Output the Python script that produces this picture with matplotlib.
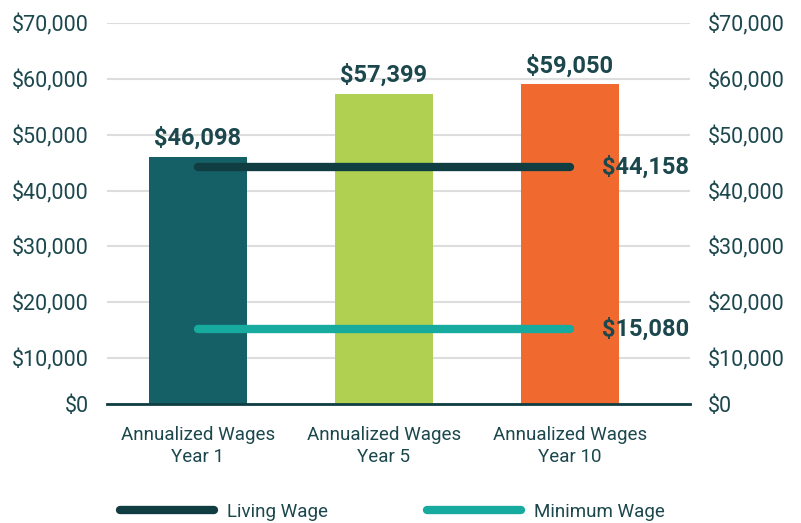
import matplotlib.pyplot as plt
from matplotlib.ticker import FuncFormatter

categories = ["Annualized Wages\nYear 1", "Annualized Wages\nYear 5", "Annualized Wages\nYear 10"]
wages = [46098, 57399, 59050]
living_wage = [44158, 44158, 44158]
minimum_wage = [15080, 15080, 15080]

bar_colors = ["#155f66", "#afd050", "#f06a30"]
text_color = "#1b474d"
living_color = "#0f3d42"
minimum_color = "#17aa9e"

plt.rcParams['font.family'] = ['Roboto', 'DejaVu Sans']

# the baseline in the original sits a little above the zero of the grid scale
y_bottom = 1690
y_top = 70000
grid_ticks = list(range(10000, 70001, 10000))
tick_pos = [y_bottom] + grid_ticks
tick_labels = ["$0"] + ["${:,}".format(t) for t in grid_ticks]

fig = plt.figure(figsize=(8.01, 5.23), dpi=100)
ax = fig.add_axes([0.1336, 0.2275, 0.7278, 0.7279])

x = list(range(len(categories)))
ax.bar(x, wages, width=0.527, color=bar_colors, zorder=2)

ax.plot(x, living_wage, color=living_color, lw=6, solid_capstyle='round',
        zorder=3, label="Living Wage")
ax.plot(x, minimum_wage, color=minimum_color, lw=6, solid_capstyle='round',
        zorder=3, label="Minimum Wage")

# value labels
for xi, v in zip(x, wages):
    ax.text(xi, v + 1200, "${:,}".format(v), ha='center', va='bottom',
            fontsize=17, fontweight='bold', color=text_color)
ax.text(x[-1] + 0.17, living_wage[-1], "${:,}".format(living_wage[-1]), ha='left',
        va='center', fontsize=17, fontweight='bold', color=text_color)
ax.text(x[-1] + 0.17, minimum_wage[-1], "${:,}".format(minimum_wage[-1]), ha='left',
        va='center', fontsize=17, fontweight='bold', color=text_color)

ax.set_xlim(-0.489, 2.645)
ax.set_ylim(y_bottom, y_top)
ax.set_yticks(tick_pos)
ax.set_yticklabels(tick_labels)
ax.set_xticks(x)
ax.set_xticklabels(categories, linespacing=1.3)
ax.grid(axis='y', color='#dddddd', lw=1.5, zorder=0)
ax.set_axisbelow(True)
for s in ['top', 'left', 'right']:
    ax.spines[s].set_visible(False)
ax.spines['bottom'].set_color(living_color)
ax.spines['bottom'].set_linewidth(2)
ax.spines['bottom'].set_zorder(4)
ax.tick_params(axis='y', length=0, pad=13, labelsize=15.5, labelcolor=text_color)
ax.tick_params(axis='x', length=0, pad=16, labelsize=13.5, labelcolor=text_color)

ax2 = ax.twinx()
ax2.set_ylim(ax.get_ylim())
ax2.set_yticks(tick_pos)
ax2.set_yticklabels(tick_labels)
for s in ['top', 'left', 'right', 'bottom']:
    ax2.spines[s].set_visible(False)
ax2.tick_params(axis='y', length=0, pad=13, labelsize=15.5, labelcolor=text_color)

leg = fig.legend(loc='lower center', bbox_to_anchor=(0.49, -0.028), ncol=2,
                 frameon=False, handlelength=5.0, columnspacing=5.3,
                 handletextpad=0.7, fontsize=13.5)
for t in leg.get_texts():
    t.set_color(text_color)

fig.savefig("out.png", dpi=100)
